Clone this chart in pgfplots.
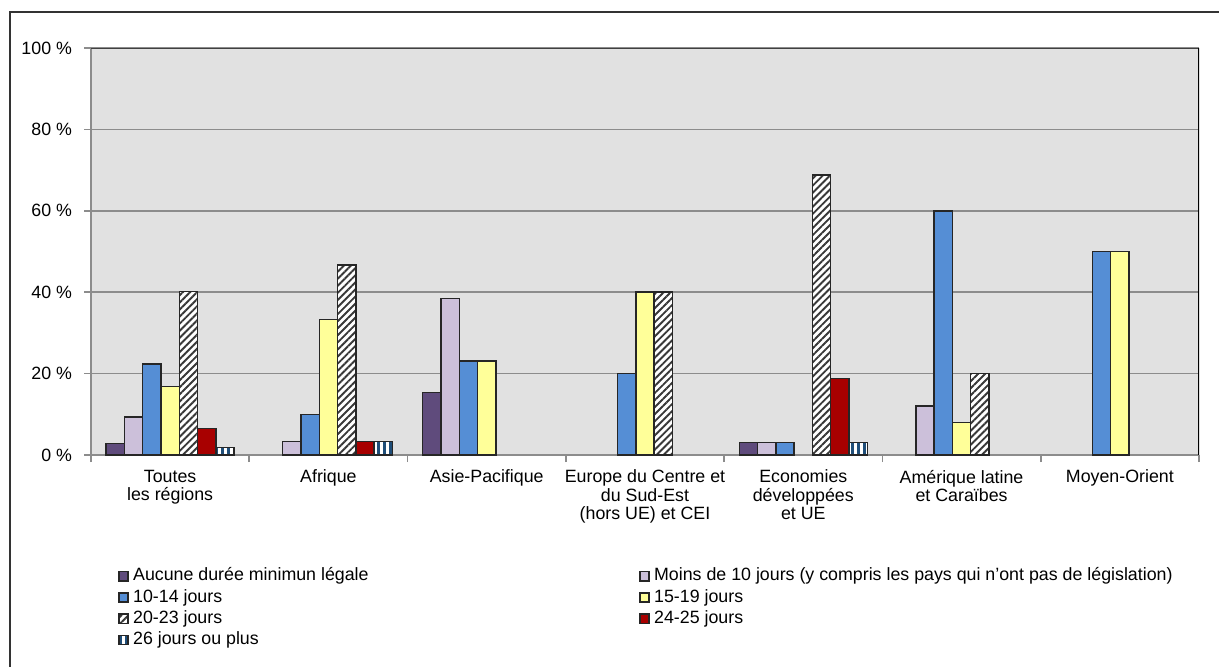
\documentclass[border=0pt]{standalone}
\usepackage{pgfplots}
\pgfplotsset{compat=1.18}
\usepackage{fontspec}
\setmainfont{Liberation Sans}
\usetikzlibrary{patterns.meta}

\definecolor{plotbg}{HTML}{E1E1E1}
\definecolor{gridgray}{HTML}{8C8C8C}
\definecolor{cPurple}{HTML}{5F4B7C}
\definecolor{cLilac}{HTML}{CCC0DA}
\definecolor{cBlue}{HTML}{558ED5}
\definecolor{cYellow}{HTML}{FFFF99}
\definecolor{cRed}{HTML}{A80000}
\definecolor{cHatch}{HTML}{383838}
\definecolor{cStripe}{HTML}{1F4E79}

\newcommand{\chartfont}{\fontsize{8.9pt}{9.1pt}\selectfont}

\pgfplotsset{
  sq legend/.style={legend image code/.code={
      \draw[##1] (0pt,-2.3pt) rectangle (4.6pt,2.3pt);}},
  barline/.style={draw=black!85, line width=0.75pt, sq legend},
}

\begin{document}
\begin{tikzpicture}[font=\chartfont]
\useasboundingbox (0,0) rectangle (609.5pt,-333pt);
% outer chart frame
\draw[black!80, line width=0.7pt] (5pt,-340pt) -- (5pt,-6pt) -- (620pt,-6pt);
\begin{axis}[
  at={(45.5pt,-227.5pt)}, anchor=south west,
  scale only axis, width=554pt, height=203.5pt,
  ymin=0, ymax=100, xmin=-0.5, xmax=6.5,
  axis lines*=left,
  axis line style={gridgray, line width=0.8pt},
  axis background/.style={fill=plotbg},
  ybar=0pt, bar width=0.1156,
  ytick={0,20,...,100},
  yticklabels={0 \%,20 \%,40 \%,60 \%,80 \%,100 \%},
  ymajorgrids, grid style={gridgray, line width=0.8pt},
  xtick={-0.5,0.5,...,6.5}, xticklabels={},
  extra x ticks={0,1,2,3,4,5,6},
  extra x tick labels={{Toutes\\les régions},{Afrique},{Asie-Pacifique},
    {Europe du Centre et\\du Sud-Est\\(hors UE) et CEI},
    {Economies\\développées\\et UE},{Amérique latine\\et Caraïbes},{Moyen-Orient}},
  extra x tick style={major tick length=0pt, grid=none},
  xticklabel style={align=center, font=\chartfont, yshift=-4pt},
  yticklabel style={font=\chartfont, xshift=-2.5pt},
  tick align=outside, major tick length=3.5pt,
  tick style={gridgray, line width=0.8pt},
  legend columns=2,
  legend cell align=left,
  legend style={draw=none, fill=none, inner sep=0pt, outer sep=0pt,
    at={(axis description cs:0.0244,-0.2745)}, anchor=north west,
    font=\chartfont,
    nodes={text height=6.6pt, text depth=2pt, inner ysep=0.5pt, inner xsep=2.2pt},
    row sep=1pt,
    /tikz/every even column/.append style={column sep=133pt}},
]
% Aucune durée minimum légale
\addplot[barline, fill=cPurple] coordinates {(0,2.8) (2,15.4) (4,3.1)};
% Moins de 10 jours
\addplot[barline, fill=cLilac] coordinates {(0,9.3) (1,3.3) (2,38.5) (4,3.1) (5,12)};
% 10-14 jours
\addplot[barline, fill=cBlue] coordinates {(0,22.4) (1,10) (2,23.1) (3,20) (4,3.1) (5,60) (6,50)};
% 15-19 jours
\addplot[barline, fill=cYellow] coordinates {(0,16.8) (1,33.3) (2,23.1) (3,40) (5,8) (6,50)};
% 20-23 jours
\addplot[barline, fill=white, postaction={pattern={Lines[angle=45,distance=2.5pt,line width=0.95pt]}, pattern color=cHatch}]
  coordinates {(0,40.2) (1,46.7) (3,40) (4,68.8) (5,20)};
% 24-25 jours
\addplot[barline, fill=cRed] coordinates {(0,6.5) (1,3.3) (4,18.8)};
% 26 jours ou plus
\addplot[barline, fill=white, postaction={pattern={Lines[angle=90,distance=3pt,line width=1.5pt]}, pattern color=cStripe}]
  coordinates {(0,1.9) (1,3.3) (4,3.1)};
\legend{Aucune durée minimun légale,
  Moins de 10 jours (y compris les pays qui n’ont pas de législation),
  10-14 jours, 15-19 jours, 20-23 jours, 24-25 jours, 26 jours ou plus}
% plot area border (top and right)
\draw[black!75, line width=0.8pt] (rel axis cs:0,1) -- (rel axis cs:1,1);
\draw[black, line width=0.8pt] (rel axis cs:1,1) -- (rel axis cs:1,0);
\end{axis}
\end{tikzpicture}
\end{document}
